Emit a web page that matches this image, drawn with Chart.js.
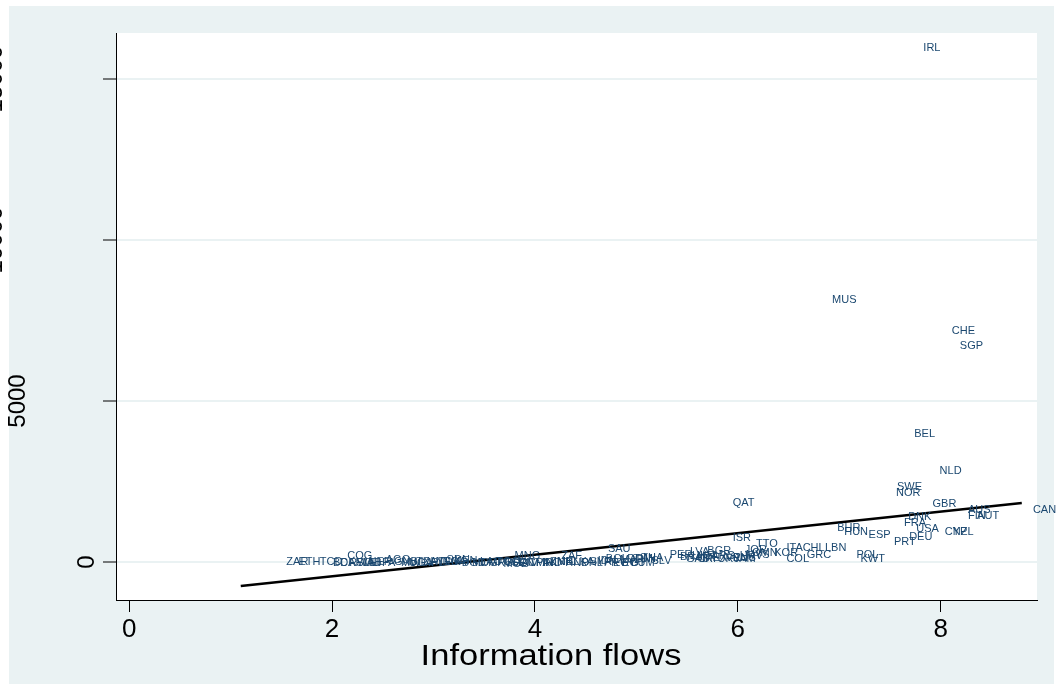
<!DOCTYPE html>
<html>
<head>
<meta charset="utf-8">
<script src="https://cdn.jsdelivr.net/npm/chart.js@4/dist/chart.umd.min.js"></script>
<style>
  body { margin: 0; background: #fff; }
  canvas { display: block; }
</style>
</head>
<body>
<canvas id="scatter-chart" width="1062" height="691"></canvas>
<script>
// country codes, information flows index, FDI value
const countries = [
  'IRL','MUS','CHE','SGP','BEL','NLD','SWE','NOR','GBR','QAT',
  'AUS','FIN','AUT','CAN','DNK','FRA','USA','CYP','NZL','BHR',
  'HUN','ESP','PRT','DEU','LBN','POL','KWT','ISR','TTO','JOR',
  'OMN','KOR','ITA','CHL','COL','GRC','BGR','LVA','PER','BRA',
  'UKR','GAB','CRI','MEX','ARG','URY','VEN','RUS','HRV','MYS',
  'JAM','GHA','MNG','SEN','CIV','CMR','PAK','IND','ZMB','NIC',
  'ZAF','HND','LKA','PHL','SYR','IDN','BOL','SAU','EGY','MAR',
  'DOM','ECU','TUN','GTM','THA','SLV','PRY','ZAR','ETH','TCD',
  'BDI','CAF','COG','RWA','SLE','MLI','NER','BFA','AGO','GNB',
  'MWI','UGA','TZA','NPL','HTI','YEM','SDN','KEN','NGA','BGD',
  'MDG','LAO','MRT','TGO','MOZ'
];
const infoFlows = [
  7.80, 6.90, 8.08, 8.16, 7.71, 7.96, 7.54, 7.53, 7.89, 5.92,
  8.24, 8.24, 8.33, 8.88, 7.65, 7.61, 7.73, 8.01, 8.09, 6.95,
  7.02, 7.26, 7.51, 7.66, 6.83, 7.14, 7.18, 5.92, 6.15, 6.04,
  6.11, 6.33, 6.45, 6.61, 6.45, 6.65, 5.67, 5.50, 5.30, 5.40,
  5.52, 5.46, 5.57, 5.63, 5.71, 5.77, 5.85, 5.92, 5.99, 6.05,
  5.93, 3.67, 3.77, 3.74, 3.82, 3.90, 3.98, 4.05, 4.12, 4.19,
  4.23, 4.27, 4.35, 4.43, 4.51, 4.59, 4.67, 4.69, 4.74, 4.81,
  4.88, 4.83, 4.94, 4.91, 5.02, 5.12, 4.65, 1.52, 1.64, 1.85,
  1.98, 2.05, 2.12, 2.14, 2.21, 2.27, 2.33, 2.39, 2.50, 2.58,
  2.65, 2.73, 2.80, 2.87, 2.94, 3.00, 3.10, 3.18, 3.06, 3.25,
  3.35, 3.43, 3.51, 3.59, 3.66
];
const fdiValues = [
  15960, 8140, 7175, 6710, 3975, 2826, 2330, 2143, 1801, 1833,
  1615, 1429, 1429, 1615, 1398, 1211, 1025, 932, 932, 1056,
  932, 839, 621, 777, 435, 217, 93, 745, 559, 373,
  280, 280, 435, 435, 93, 217, 342, 311, 217, 155,
  186, 93, 93, 124, 186, 93, 124, 124, 186, 217,
  93, -31, 186, -31, -31, -31, -31, -31, 0, 0,
  186, -31, 0, -31, 0, 31, 93, 404, -31, 62,
  93, -31, 93, -31, 124, 31, -31, 0, 0, 0,
  -31, -31, 186, -31, -31, -31, 0, -31, 62, 0,
  -31, -31, 0, -31, 0, 0, 62, 31, 0, -31,
  -31, 0, -31, 0, -62
];

// fitted line end points
const fitX = [1.1, 8.8];
const fitY = [-745, 1830];

const xTicks = [0, 2, 4, 6, 8];
const yTicks = [0, 5000, 10000, 15000];
const xTitle = 'Information flows';

const navy = '#1a476f';
const backColor = '#eaf2f3';
const fontFamily = '"Liberation Sans", Arial, sans-serif';

const backgroundPlugin = {
  id: 'background',
  beforeDraw(chart) {
    const ctx = chart.ctx;
    const area = chart.chartArea;
    ctx.save();
    ctx.fillStyle = '#fff';
    ctx.fillRect(0, 0, chart.width, chart.height);
    ctx.fillStyle = backColor;
    ctx.fillRect(9, 6, 1045, 678);
    ctx.fillStyle = '#fff';
    ctx.fillRect(area.left, area.top, area.right - area.left, area.bottom - area.top);
    ctx.restore();
  }
};

// country labels to the right of each (hidden) point
const markerLabelPlugin = {
  id: 'markerLabels',
  afterDatasetsDraw(chart) {
    const ctx = chart.ctx;
    const meta = chart.getDatasetMeta(0);
    ctx.save();
    ctx.font = '11px ' + fontFamily;
    ctx.fillStyle = navy;
    ctx.textAlign = 'left';
    ctx.textBaseline = 'middle';
    meta.data.forEach((pt, i) => {
      ctx.fillText(countries[i], pt.x + 3, pt.y);
    });
    ctx.restore();
  }
};

// vertical y tick labels (shifted left as in the original export) + x title
const axisTextPlugin = {
  id: 'axisText',
  afterDraw(chart) {
    const ctx = chart.ctx;
    const scale = chart.scales.y;
    ctx.save();
    ctx.font = '24px ' + fontFamily;
    ctx.fillStyle = '#000';
    ctx.textAlign = 'center';
    ctx.textBaseline = 'middle';
    yTicks.forEach(v => {
      const txt = String(v);
      const py = scale.getPixelForValue(v);
      ctx.save();
      ctx.translate(110 - 23 * txt.length, py);
      ctx.rotate(-Math.PI / 2);
      ctx.fillText(txt, 0, 0);
      ctx.restore();
    });

    // the original graph is stretched sideways a bit
    ctx.font = '30px ' + fontFamily;
    ctx.translate(551, 657);
    ctx.scale(1.15, 1);
    ctx.fillText(xTitle, 0, 0);
    ctx.restore();
  }
};

new Chart(document.querySelector('#scatter-chart').getContext('2d'), {
  type: 'scatter',
  data: {
    datasets: [
      {
        label: 'countries',
        data: countries.map((c, i) => ({ x: infoFlows[i], y: fdiValues[i] })),
        pointRadius: 0,
        pointHoverRadius: 0
      },
      {
        type: 'line',
        label: 'Fitted values',
        data: fitX.map((x, i) => ({ x: x, y: fitY[i] })),
        borderColor: '#000',
        borderWidth: 2.5,
        pointRadius: 0,
        fill: false
      }
    ]
  },
  options: {
    responsive: false,
    animation: false,
    events: [],
    layout: { padding: { left: 0, right: 25, top: 33, bottom: 0 } },
    plugins: {
      legend: { display: false },
      tooltip: { enabled: false }
    },
    scales: {
      x: {
        type: 'linear',
        min: -0.13,
        max: 8.95,
        afterBuildTicks: s => { s.ticks = xTicks.map(v => ({ value: v })); },
        afterFit: s => { s.height = 91; },
        grid: { drawOnChartArea: false, tickLength: 12, tickColor: '#000', tickWidth: 1 },
        border: { color: '#000', width: 1 },
        ticks: {
          color: '#000',
          padding: 2,
          font: { family: fontFamily, size: 26 },
          callback: v => String(v)
        }
      },
      y: {
        type: 'linear',
        min: -1180,
        max: 16430,
        afterBuildTicks: s => { s.ticks = yTicks.map(v => ({ value: v })); },
        afterFit: s => { s.width = 116; },
        grid: { color: backColor, lineWidth: 2, tickLength: 13, tickColor: '#000', tickWidth: 1 },
        border: { color: '#000', width: 1 },
        ticks: { display: false }
      }
    }
  },
  plugins: [backgroundPlugin, markerLabelPlugin, axisTextPlugin]
});
</script>
</body>
</html>
